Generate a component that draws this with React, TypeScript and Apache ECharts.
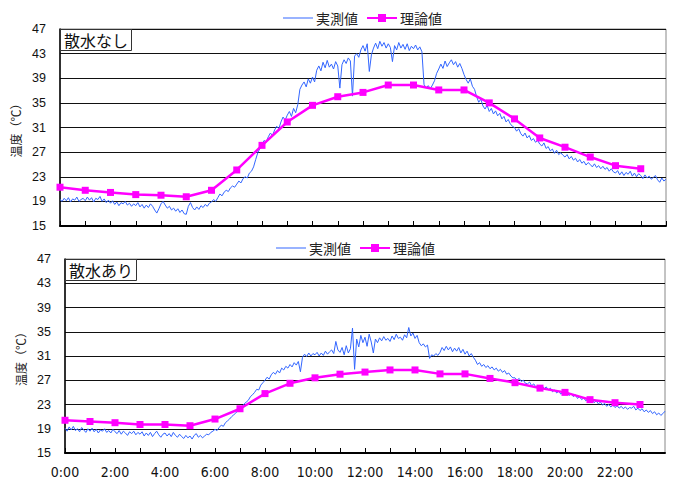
import React, { useEffect, useRef } from "react";
import * as echarts from "echarts";

// hours of the theoretical values (0:00 .. 23:00)
const theoryHours = [0, 1, 2, 3, 4, 5, 6, 7, 8, 9, 10, 11, 12, 13, 14, 15, 16, 17, 18, 19, 20, 21, 22, 23];

// 散水なし – theoretical values (°C)
const theoryNoSpray = [21.3, 20.8, 20.45, 20.1, 20.0, 19.75, 20.8, 24.1, 28.1, 31.9, 34.6, 36.0, 36.7, 37.9, 37.9, 37.1, 37.1, 35.0, 32.4, 29.3, 27.8, 26.2, 24.8, 24.3];

// 散水あり – theoretical values (°C)
const theorySpray = [20.4, 20.2, 20.0, 19.7, 19.7, 19.5, 20.6, 22.3, 24.8, 26.5, 27.4, 28.0, 28.35, 28.7, 28.7, 28.05, 28.05, 27.3, 26.6, 25.7, 25.0, 23.8, 23.3, 23.0];

// measured values every 5 minutes, 0:00 .. 24:00
const measuredStepMinutes = 5;

const measuredNoSpray = [
  19.3, 19.0, 19.5, 19.1, 19.6, 18.9, 19.4, 19.2, 19.7, 19.0, 19.3, 19.5,
  19.1, 19.7, 19.2, 19.6, 18.9, 19.5, 19.3, 19.8, 19.0, 19.4, 18.8, 19.2,
  18.7, 19.1, 18.5, 18.9, 18.3, 18.8, 18.6, 19.0, 18.4, 18.7, 18.2, 18.6,
  18.3, 18.8, 18.1, 18.5, 17.9, 18.4, 18.0, 18.6, 18.2, 17.6, 17.1, 17.8,
  18.6, 19.0, 18.4, 17.9, 18.2, 17.6, 17.9, 17.4, 17.8, 17.2, 17.6, 17.0,
  16.9, 18.2, 18.8, 18.0, 17.6, 18.1, 17.7, 18.3, 18.0, 18.5, 18.2, 18.7,
  18.9, 19.3, 19.0, 19.6, 20.2, 19.9, 20.5, 20.8, 20.6, 21.2, 21.5, 21.3,
  21.8, 22.3, 22.0, 22.7, 23.0, 22.8, 23.6, 23.9, 24.6, 25.8, 26.9, 27.6,
  28.2, 28.9, 28.6, 29.5, 30.1, 29.7, 30.6, 31.2, 30.8, 31.9, 32.7, 32.2,
  33.0, 33.6, 32.8, 34.1, 33.4, 34.7, 37.2, 37.9, 38.4, 37.6, 38.9, 38.2,
  39.2, 38.4, 40.3, 41.0, 40.2, 41.6, 40.7, 41.9, 40.8, 41.3, 40.5, 41.7,
  41.0, 37.4, 41.2, 42.0, 41.4, 42.3, 41.8, 36.1, 42.6, 43.0, 42.4, 43.6,
  44.3, 43.4, 44.6, 40.1, 42.8, 43.9, 44.7, 43.8, 45.0, 44.2, 44.8, 43.9,
  44.6, 44.0, 41.7, 44.3, 43.6, 44.8, 43.9, 44.5, 43.7, 44.6, 43.5, 44.2,
  43.8, 44.4, 43.6, 44.1, 43.3, 38.0, 37.4, 37.8, 37.3, 37.9, 38.6, 39.8,
  40.5, 41.3, 40.6, 41.8, 40.9, 41.5, 42.0, 41.2, 41.7, 40.8, 41.4, 40.6,
  39.6, 38.8, 38.2, 38.9, 37.7, 37.2, 36.0, 35.1, 35.6, 34.5, 34.0, 34.6,
  33.6, 34.1, 33.2, 33.7, 32.9, 33.3, 32.4, 32.8, 31.9, 32.3, 31.6, 31.2,
  31.0, 30.4, 30.8, 30.0, 29.6, 30.1, 29.3, 29.7, 28.9, 29.2, 28.6, 28.9,
  28.3, 28.0, 28.5, 27.6, 27.9, 27.2, 27.5, 26.8, 27.3, 26.6, 26.9, 26.5,
  26.2, 26.6, 25.9, 26.3, 25.7, 26.0, 25.4, 25.8, 25.2, 25.5, 24.9, 25.3,
  25.0, 24.6, 25.1, 24.5, 24.8, 24.3, 24.7, 24.2, 24.5, 23.9, 24.3, 23.8,
  23.6, 24.0, 23.3, 23.8, 23.2, 23.7, 23.4, 23.9, 23.1, 23.6, 23.0, 23.5,
  23.2, 22.7, 23.3, 22.8, 23.1, 22.6, 22.9, 23.2, 22.5, 22.1, 22.8, 22.3,
  22.6,
];

const measuredSpray = [
  19.1, 18.6, 19.3, 18.8, 19.4, 18.7, 19.0, 18.5, 19.2, 18.8, 18.4, 19.0,
  18.6, 19.1, 18.5, 18.9, 18.3, 18.8, 18.6, 19.0, 18.4, 18.7, 18.3, 18.9,
  18.5, 18.2, 18.7, 18.1, 18.6, 18.3, 17.9, 18.5, 18.2, 18.6, 18.0, 18.4,
  18.1, 18.5, 17.8, 18.3, 17.9, 18.4, 17.7, 18.2, 18.6, 18.0, 17.6, 18.1,
  18.3, 17.8, 18.2, 17.7, 18.4, 17.9, 17.6, 18.1, 17.7, 17.4, 17.9, 17.5,
  17.8, 17.3, 17.9, 18.2, 17.6, 17.9, 17.5, 17.8, 18.1, 18.0, 18.4, 18.6,
  18.9, 18.7, 19.2, 19.6, 19.4, 20.0, 20.3, 20.6, 21.0, 21.3, 21.6, 22.0,
  22.4, 22.7, 23.1, 23.4, 23.7, 24.3, 24.6, 25.0, 25.5, 25.4, 26.2, 26.6,
  27.0, 27.5, 27.2, 27.9, 28.3, 28.0, 28.6, 28.2, 29.0, 28.7, 29.3, 29.0,
  29.6, 29.2, 29.9, 29.5, 30.1, 28.4, 30.8, 31.3, 30.9, 31.5, 31.0, 31.4,
  31.2, 31.6, 31.0, 31.5, 31.1, 31.8, 31.3, 31.7, 32.0, 31.4, 33.4, 32.0,
  31.6, 32.4, 31.2, 32.7, 31.5, 32.2, 35.6, 28.8, 33.8, 32.5, 34.4, 33.2,
  34.1, 32.6, 34.6, 33.3, 31.5, 33.8, 33.2, 34.0, 33.5, 34.2, 33.6, 33.9,
  33.4, 34.3, 33.7, 34.6, 33.9, 34.1, 33.6, 34.5, 34.0, 35.7, 34.3, 34.8,
  33.9, 34.4, 33.2, 32.7, 33.0, 32.5, 32.8, 30.6, 31.2, 31.0, 31.4, 31.1,
  31.6, 32.4, 31.9, 32.6, 32.0, 32.5, 31.7, 32.3, 31.8, 32.4, 31.5, 32.1,
  31.3, 31.8, 31.0, 31.4, 30.8, 30.3, 29.6, 29.9, 29.3, 29.6, 29.1, 29.4,
  28.9, 29.2, 28.7, 29.0, 28.5, 28.8, 28.3, 28.6, 28.0, 28.2, 27.7, 27.4,
  27.4, 27.0, 27.3, 26.8, 27.0, 26.5, 26.4, 26.7, 26.1, 26.4, 25.9, 26.2,
  25.8, 26.1, 25.6, 25.9, 25.4, 25.7, 25.1, 25.4, 24.9, 25.2, 24.7, 25.0,
  24.7, 25.0, 24.5, 24.8, 24.3, 24.6, 24.0, 24.3, 23.8, 24.1, 23.6, 23.9,
  23.5, 23.8, 23.3, 23.6, 23.1, 23.4, 22.9, 23.2, 22.7, 23.0, 22.6, 22.9,
  22.5, 22.8, 22.4, 22.7, 22.3, 22.6, 22.2, 22.5, 22.4, 22.7, 22.1, 22.4,
  22.0, 22.3, 21.8, 22.1, 21.7, 22.0, 21.5, 21.8, 21.3, 21.6, 21.2, 21.5,
  21.9,
];

const panelTitles = ["散水なし", "散水あり"];
const seriesNames = ["実測値", "理論値"];
const yAxisName = "温度（℃）";
const yMin = 15;
const yMax = 47;
const yStep = 4;
const xMin = 0;
const xMax = 24;

const toMeasuredPairs = (vals: number[]) =>
  vals.map((v, i) => [(i * measuredStepMinutes) / 60, v]);
const toTheoryPairs = (vals: number[]) => theoryHours.map((h, i) => [h, vals[i]]);

const BLUE = "#3366ff";
const MAGENTA = "#ff00ff";
const CJK = '"Noto Sans CJK JP", sans-serif';
const NUM = '"Liberation Sans", Arial, sans-serif';
const NUM_NARROW = '"Liberation Sans Narrow", "Arial Narrow", "DejaVu Sans Condensed", sans-serif';

export default function App() {
  const ref = useRef<HTMLDivElement>(null);

  useEffect(() => {
    if (!ref.current) return;
    const chart = echarts.init(ref.current, undefined, { renderer: "svg" });

    const grids = [
      { left: 60, top: 29, width: 606, height: 197 },
      { left: 65, top: 259, width: 600, height: 194 },
    ];

    const xAxes = grids.map((_, gi) => ({
      type: "value",
      gridIndex: gi,
      min: xMin,
      max: xMax,
      interval: 1,
      axisLine: { show: true, lineStyle: { color: "#000", width: 2 } },
      axisTick: { show: true, inside: true, length: 5, lineStyle: { color: "#000", width: 1 } },
      splitLine: { show: false },
      axisLabel: {
        show: gi === 1,
        color: "#111",
        fontFamily: NUM_NARROW,
        fontSize: 14,
        margin: 12,
        showMaxLabel: false,
        formatter: (v: number) => (v % 2 === 0 && v < 24 ? `${v}:00` : ""),
      },
    }));

    const yAxes = grids.map((_, gi) => ({
      type: "value",
      gridIndex: gi,
      min: yMin,
      max: yMax,
      interval: yStep,
      name: yAxisName,
      nameLocation: "middle",
      nameRotate: 90,
      nameGap: 36,
      nameTextStyle: { color: "#222", fontFamily: CJK, fontSize: 12 },
      axisLine: { show: true, lineStyle: { color: "#000", width: 1.5 } },
      axisTick: { show: false },
      splitLine: { show: true, lineStyle: { color: "#111", width: 1 } },
      axisLabel: { color: "#111", fontFamily: NUM, fontSize: 12.5, margin: 14 },
    }));

    const series: any[] = [];
    [measuredNoSpray, measuredSpray].forEach((vals, gi) => {
      series.push({
        name: seriesNames[0],
        type: "line",
        xAxisIndex: gi,
        yAxisIndex: gi,
        data: toMeasuredPairs(vals),
        symbol: "none",
        lineStyle: { color: BLUE, width: 1 },
        itemStyle: { color: BLUE },
        z: 2,
      });
    });
    [theoryNoSpray, theorySpray].forEach((vals, gi) => {
      series.push({
        name: seriesNames[1],
        type: "line",
        xAxisIndex: gi,
        yAxisIndex: gi,
        data: toTheoryPairs(vals),
        symbol: "rect",
        symbolSize: 7,
        lineStyle: { color: MAGENTA, width: 2.5 },
        itemStyle: { color: MAGENTA },
        z: 3,
      });
    });

    const legendBase = {
      orient: "horizontal",
      itemWidth: 30,
      itemHeight: 10,
      itemGap: 8,
      data: [
        { name: seriesNames[0], icon: "path://M0 0H30V1H0Z", itemStyle: { color: BLUE } },
        { name: seriesNames[1] },
      ],
      textStyle: { color: "#222", fontFamily: CJK, fontSize: 14, padding: [0, 0, 0, -2] },
    };

    chart.setOption({
      animation: false,
      backgroundColor: "#fff",
      title: panelTitles.map((t, gi) => ({
        text: t,
        left: grids[gi].left,
        top: grids[gi].top,
        padding: [3, 4, 3, 4],
        borderColor: "#333",
        borderWidth: 1,
        backgroundColor: "#fff",
        textStyle: { color: "#111", fontFamily: CJK, fontSize: 16, fontWeight: "normal" },
      })),
      legend: [
        { ...legendBase, left: 278, top: 6 },
        { ...legendBase, left: 271, top: 236 },
      ],
      grid: grids.map((g) => ({ ...g, show: true, borderColor: "#888", borderWidth: 1 })),
      xAxis: xAxes,
      yAxis: yAxes,
      series,
    });

    return () => chart.dispose();
  }, []);

  return (
    <div
      ref={ref}
      style={{ position: "fixed", left: 0, top: 0, width: 674, height: 480, background: "#fff" }}
    />
  );
}
